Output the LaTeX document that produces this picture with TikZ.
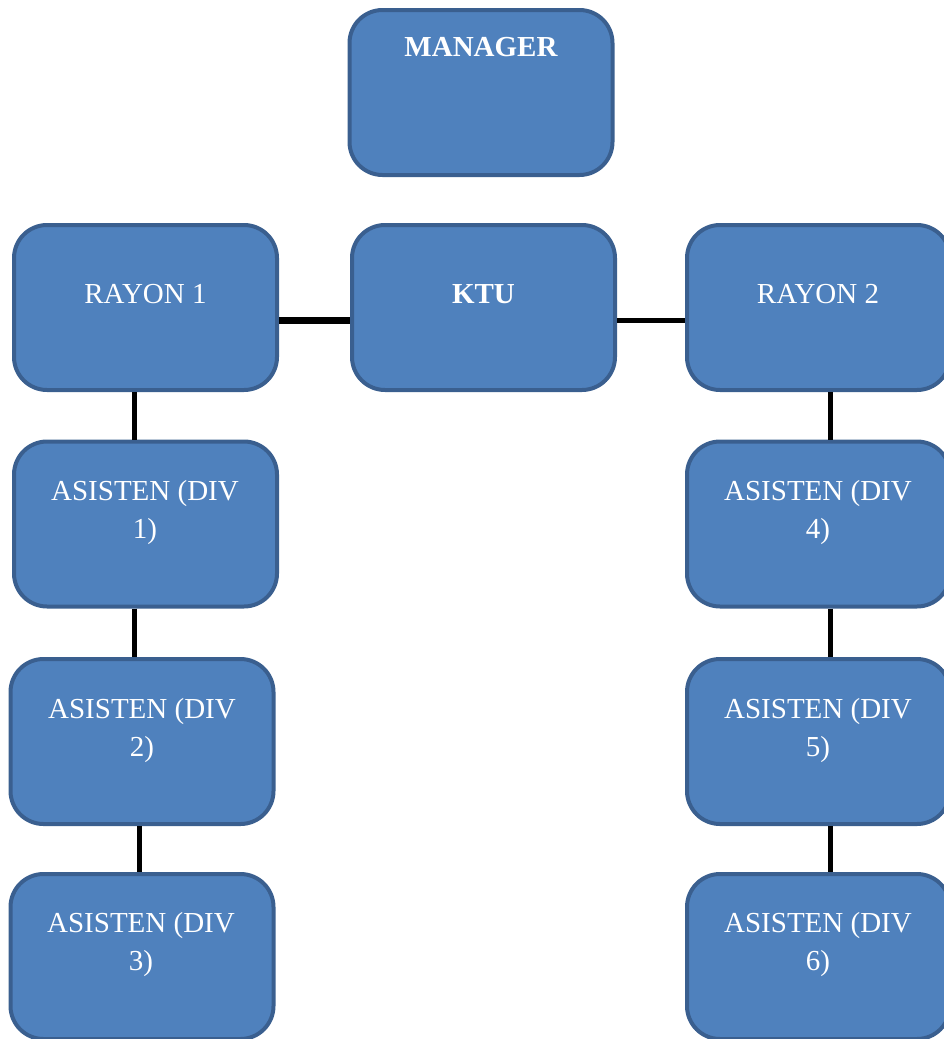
\documentclass[tikz,border=0pt]{standalone}
\usepackage{fontspec}
\setmainfont{Liberation Serif}
\definecolor{boxfill}{HTML}{4F81BD}
\definecolor{boxedge}{HTML}{3A5F8F}
\begin{document}
\begin{tikzpicture}[x=1pt,y=-1pt,
  box/.style={draw=boxedge, fill=boxfill, line width=4pt, rounded corners=33pt,
    minimum width=263pt, minimum height=165pt, inner sep=0pt},
  lbl/.style={text=white, font=\fontsize{29}{38}\selectfont, align=center, inner sep=0pt},
  blbl/.style={lbl, font=\fontsize{29}{38}\selectfont\bfseries},
  link/.style={line width=5pt, black}]
\useasboundingbox (0,0) rectangle (943,1039);
% boxes
\node[box] (m)  at (481,92.5) {};
\node[box] (r1) at (145.5,307.5) {};
\node[box] (k)  at (483.5,307.5) {};
\node[box] (r2) at (818.5,307.5) {};
\node[box] (a1) at (145.5,524) {};
\node[box] (a2) at (142,741.5) {};
\node[box] (a3) at (142,956.5) {};
\node[box] (a4) at (818.5,524) {};
\node[box] (a5) at (818.5,741.5) {};
\node[box] (a6) at (818.5,956.5) {};
% labels
\node[blbl] (tm)  at (481,47) {MANAGER};
\node[lbl]  (tr1) at (145.5,294) {RAYON 1};
\node[blbl] (tk)  at (483.5,294) {KTU};
\node[lbl]  (tr2) at (818,294) {RAYON 2};
\node[lbl]  (ta1) at (145,513) {ASISTEN (DIV\\1)};
\node[lbl]  (ta2) at (142,731) {ASISTEN (DIV\\2)};
\node[lbl]  (ta3) at (141,945) {ASISTEN (DIV\\3)};
\node[lbl]  (ta4) at (818,513) {ASISTEN (DIV\\4)};
\node[lbl]  (ta5) at (818,731) {ASISTEN (DIV\\5)};
\node[lbl]  (ta6) at (818,945) {ASISTEN (DIV\\6)};
% connectors
\coordinate (h) at (0,320);
\coordinate (vl) at (134,0);
\coordinate (vl2) at (139,0);
\coordinate (vr) at (830,0);
\draw[link, line width=7pt] (r1.east |- h) -- (k.west |- h);
\draw[link] (k.east |- h) -- (r2.west |- h);
\draw[link] (r1.south -| vl) -- (a1.north -| vl);
\draw[link] (a1.south -| vl) -- (a2.north -| vl);
\draw[link] (a2.south -| vl2) -- (a3.north -| vl2);
\draw[link] (r2.south -| vr) -- (a4.north -| vr);
\draw[link] (a4.south -| vr) -- (a5.north -| vr);
\draw[link] (a5.south -| vr) -- (a6.north -| vr);
\end{tikzpicture}
\end{document}
